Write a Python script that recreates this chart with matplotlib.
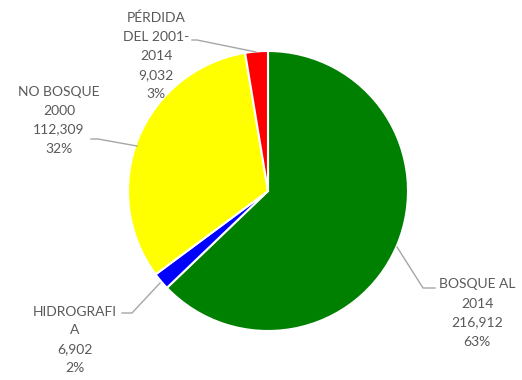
import matplotlib
matplotlib.use("Agg")
import matplotlib.pyplot as plt

# Datos
categorias = ["BOSQUE AL\n2014", "HIDROGRAFI\nA", "NO BOSQUE\n2000", "PÉRDIDA\nDEL 2001-\n2014"]
valores = [216912, 6902, 112309, 9032]
porcentajes = ["63%", "2%", "32%", "3%"]
colores = ["#008000", "#0000FF", "#FFFF00", "#FF0000"]

plt.rcParams['font.family'] = ['Lato', 'DejaVu Sans']

W, H = 522, 380
fig = plt.figure(figsize=(W / 100, H / 100), dpi=100)
cx, cy, r = 268, 191, 140
ax = fig.add_axes([(cx - r) / W, (H - cy - r) / H, 2 * r / W, 2 * r / H])

ax.pie(valores, colors=colores, startangle=90, counterclock=False,
       wedgeprops=dict(edgecolor="white", linewidth=1.5))
ax.set_xlim(-1, 1)
ax.set_ylim(-1, 1)
ax.set_aspect("equal")
ax.axis("off")


def px(x, y):
    # pixel de la imagen -> coordenadas del eje
    return (x - cx) / r, (cy - y) / r


# posiciones de las etiquetas (pixeles) y quiebres de las lineas guia
etiquetas = [
    ((477, 313), [(397, 247), (423, 288), (435, 288)]),
    ((75, 340), [(160, 283), (132, 313), (122, 313)]),
    ((59, 120), [(137, 146), (98, 139), (91, 139)]),
    ((156, 56), [(256, 52), (197, 40), (192, 40)]),
]
gris = "#595959"
for cat, v, pct, (pos, linea) in zip(categorias, valores, porcentajes, etiquetas):
    txt = f"{cat}\n{v:,}\n{pct}"
    tx, ty = px(*pos)
    ax.text(tx, ty, txt, ha="center", va="center", multialignment="center",
            fontsize=10, color=gris, linespacing=1.7, clip_on=False)
    xs, ys = zip(*[px(*p) for p in linea])
    ax.plot(xs, ys, color="#A6A6A6", linewidth=1, clip_on=False)

fig.savefig("out.png", dpi=100)
